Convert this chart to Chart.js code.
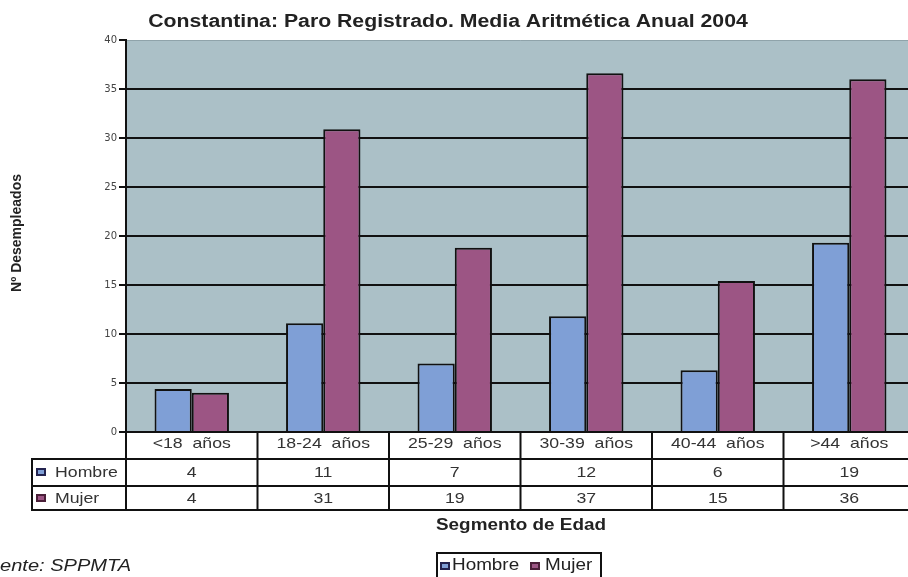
<!DOCTYPE html>
<html>
<head>
<meta charset="utf-8">
<script src="https://cdn.jsdelivr.net/npm/chart.js@4.4.1/dist/chart.umd.min.js"></script>
<style>
  html, body { margin: 0; padding: 0; background: #ffffff; overflow: hidden; width: 908px; height: 577px; }
  #wrap { position: absolute; left: 0; top: 0; width: 916px; height: 577px; }
</style>
</head>
<body>
<div id="wrap"><canvas id="c" width="916" height="577"></canvas></div>
<script>
// ---- data ----
const categories = ['<18  años', '18-24  años', '25-29  años', '30-39  años', '40-44  años', '>44  años'];
const seriesNames = ['Hombre', 'Mujer'];
const hombre = [4.4, 11.1, 7.0, 11.8, 6.3, 19.3];
const mujer = [4.0, 30.9, 18.8, 36.6, 15.4, 36.0];
const hombreTabla = ['4', '11', '7', '12', '6', '19'];
const mujerTabla = ['4', '31', '19', '37', '15', '36'];
const yMin = 0, yMax = 40, yStep = 5;
const titleText = 'Constantina: Paro Registrado. Media Aritmética Anual 2004';
const yTitle = 'Nº Desempleados';
const xTitle = 'Segmento de Edad';
const sourceText = 'Fuente: SPPMTA';

// ---- styles ----
const COL_H = '#7f9fd6';
const COL_M = '#9c5584';
const ICON_H = '#23234f';
const ICON_M = '#4a1f38';
const PLOT_BG = '#abc0c7';
const INK = '#111111';
const TXT = '#2a2a2a';
const SX = 1.18;
const SANS = '"Liberation Sans", Arial, Helvetica, sans-serif';

function sText(ctx, text, x, y, align, font, color) {
  ctx.save();
  ctx.font = font;
  ctx.fillStyle = color || TXT;
  ctx.textBaseline = 'alphabetic';
  const w = ctx.measureText(text).width * SX;
  let x0 = x;
  if (align === 'center') x0 = x - w / 2;
  else if (align === 'right') x0 = x - w;
  ctx.translate(x0, y);
  ctx.scale(SX, 1);
  ctx.textAlign = 'left';
  ctx.fillText(text, 0, 0);
  ctx.restore();
  return w;
}

function icon(ctx, x, y, fill, border) {
  ctx.save();
  ctx.fillStyle = fill;
  ctx.fillRect(x, y, 8, 6);
  ctx.strokeStyle = border;
  ctx.lineWidth = 2;
  ctx.strokeRect(x, y, 8, 6);
  ctx.restore();
}

const decor = {
  id: 'decor',
  beforeDraw(chart) {
    const { ctx, chartArea: a } = chart;
    ctx.save();
    ctx.fillStyle = PLOT_BG;
    ctx.fillRect(a.left, a.top, a.right - a.left, a.bottom - a.top);
    ctx.strokeStyle = '#8fa3aa';
    ctx.lineWidth = 1;
    ctx.beginPath();
    ctx.moveTo(a.left, a.top + 0.5); ctx.lineTo(a.right, a.top + 0.5);
    ctx.stroke();
    ctx.restore();
  },
  afterDraw(chart) {
    const { ctx, chartArea: a } = chart;
    const xs = chart.scales.x;
    const n = categories.length;
    const cw = (a.right - a.left) / n;
    const y0 = a.bottom, y1 = 459, y2 = 486, y3 = 510;
    const labL = 32;

    // table background
    ctx.save();
    ctx.fillStyle = '#ffffff';
    ctx.fillRect(a.left, y0, a.right - a.left + 4, y3 - y0);
    ctx.fillRect(labL, y1, a.left - labL, y3 - y1);

    // table lines
    ctx.strokeStyle = INK;
    ctx.lineWidth = 2;
    ctx.beginPath();
    ctx.moveTo(a.left - 1, y0); ctx.lineTo(a.right + 4, y0);
    ctx.moveTo(labL - 1, y1); ctx.lineTo(a.right + 4, y1);
    ctx.moveTo(labL - 1, y2); ctx.lineTo(a.right + 4, y2);
    ctx.moveTo(labL - 1, y3); ctx.lineTo(a.right + 4, y3);
    ctx.moveTo(labL, y1); ctx.lineTo(labL, y3);
    for (let i = 0; i <= n; i++) {
      const bx = a.left + i * cw;
      ctx.moveTo(bx, y0); ctx.lineTo(bx, y3);
    }
    ctx.stroke();
    ctx.restore();

    const f = '15px ' + SANS;
    for (let i = 0; i < n; i++) {
      const cx = xs.getPixelForValue(i);
      sText(ctx, categories[i], cx, 448, 'center', f, '#333');
      sText(ctx, hombreTabla[i], cx, 477, 'center', f, '#333');
      sText(ctx, mujerTabla[i], cx, 503, 'center', f, '#333');
    }
    icon(ctx, 37, 469, COL_H, ICON_H);
    sText(ctx, seriesNames[0], 55, 477, 'left', f, '#333');
    icon(ctx, 37, 495, COL_M, ICON_M);
    sText(ctx, seriesNames[1], 55, 503, 'left', f, '#333');

    // title
    sText(ctx, titleText, 448, 27, 'center', 'bold 18px ' + SANS, '#222');
    // x title
    sText(ctx, xTitle, 521, 530, 'center', 'bold 16px ' + SANS, '#222');

    // y title (rotated)
    ctx.save();
    ctx.translate(21, 233);
    ctx.rotate(-Math.PI / 2);
    ctx.font = 'bold 14px ' + SANS;
    ctx.fillStyle = '#222';
    ctx.textAlign = 'center';
    ctx.textBaseline = 'alphabetic';
    ctx.fillText(yTitle, 0, 0);
    ctx.restore();

    // source
    ctx.save();
    const fi = 'italic 17px ' + SANS;
    ctx.font = fi;
    const pre = ctx.measureText('Fu').width * SX;
    ctx.restore();
    sText(ctx, sourceText, -pre, 571, 'left', fi, '#222');

    // legend
    ctx.save();
    ctx.strokeStyle = INK;
    ctx.lineWidth = 2;
    ctx.strokeRect(437, 553, 164, 40);
    ctx.restore();
    const fl = '16px ' + SANS;
    icon(ctx, 441, 563, COL_H, ICON_H);
    sText(ctx, seriesNames[0], 452, 570, 'left', fl, '#222');
    icon(ctx, 531, 563, COL_M, ICON_M);
    sText(ctx, seriesNames[1], 545, 570, 'left', fl, '#222');
  }
};

new Chart(document.getElementById('c'), {
  type: 'bar',
  data: {
    labels: categories,
    datasets: [
      { label: seriesNames[0], data: hombre, backgroundColor: COL_H, borderColor: INK, borderWidth: 2 },
      { label: seriesNames[1], data: mujer, backgroundColor: COL_M, borderColor: INK, borderWidth: 2 }
    ]
  },
  options: {
    responsive: false,
    animation: false,
    devicePixelRatio: 1,
    layout: { padding: { top: 40, bottom: 145, left: 0, right: 1 } },
    datasets: { bar: { categoryPercentage: 0.566, barPercentage: 1.0 } },
    plugins: { legend: { display: false }, title: { display: false }, tooltip: { enabled: false } },
    scales: {
      x: { display: false },
      y: {
        min: yMin, max: yMax,
        afterFit(scale) { scale.width = 126; },
        ticks: { stepSize: yStep, color: '#444', padding: 2, font: { family: '"DejaVu Sans", Verdana, sans-serif', size: 10 } },
        grid: {
          color: (c) => (c.tick && c.tick.value === yMax) ? 'rgba(0,0,0,0)' : INK,
          tickColor: INK,
          lineWidth: 2,
          tickLength: 7
        },
        border: { display: true, color: INK, width: 2 }
      }
    }
  },
  plugins: [decor]
});
</script>
</body>
</html>
